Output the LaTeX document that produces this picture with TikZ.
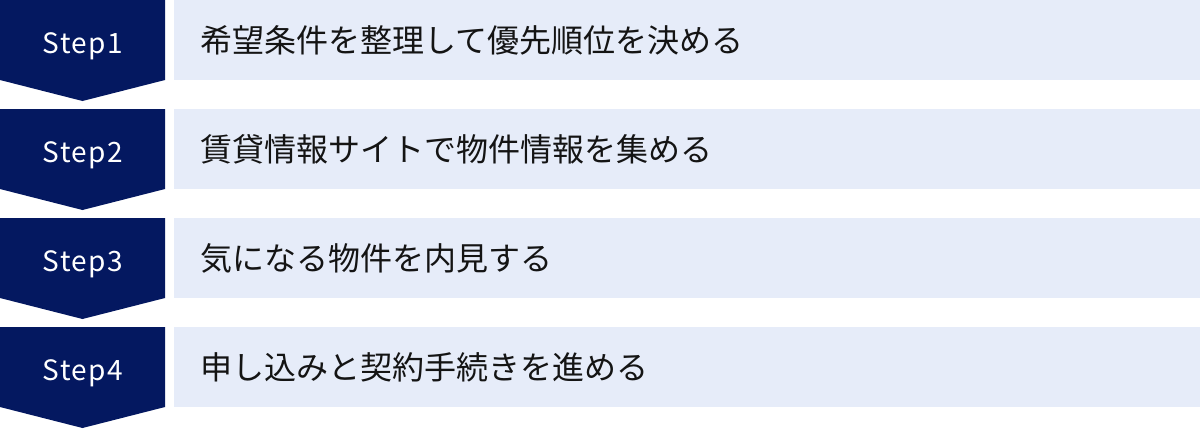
\documentclass[tikz,border=0pt]{standalone}
\usepackage{fontspec}
\setmainfont{Noto Sans CJK JP}
\newfontfamily\stepfont[LetterSpace=5]{Noto Sans CJK JP}
\definecolor{navy}{RGB}{4,24,96}
\definecolor{pale}{RGB}{230,236,249}
\definecolor{ink}{RGB}{20,20,20}
\begin{document}
\begin{tikzpicture}[x=0.75pt,y=-0.75pt,
  stepshape/.style={fill=navy,draw=none},
  steplabel/.style={text=white,font=\stepfont\fontsize{21pt}{24pt}\selectfont,inner sep=0pt,anchor=base},
  bar/.style={fill=pale,draw=none},
  bartext/.style={text=ink,font=\fontsize{24pt}{28pt}\selectfont,inner sep=0pt,anchor=west}]
\useasboundingbox (0,0) rectangle (1200,429);
\fill[white] (0,0) rectangle (1200,429);
\foreach \i/\t/\txt in {1/0/希望条件を整理して優先順位を決める,
                       2/109/賃貸情報サイトで物件情報を集める,
                       3/218/気になる物件を内見する,
                       4/327/申し込みと契約手続きを進める}{
  \path[stepshape] (0,\t) -- (165,\t) -- (165,\t+80) -- (82.5,\t+101) -- (0,\t+80) -- cycle;
  \path[bar] (174,\t) rectangle (1200,\t+80);
  \node[steplabel] (s\i) at (83,\t+53) {Step\i};
  \node[bartext] (t\i) at (200,\t+40) {\txt};
}
\end{tikzpicture}
\end{document}
